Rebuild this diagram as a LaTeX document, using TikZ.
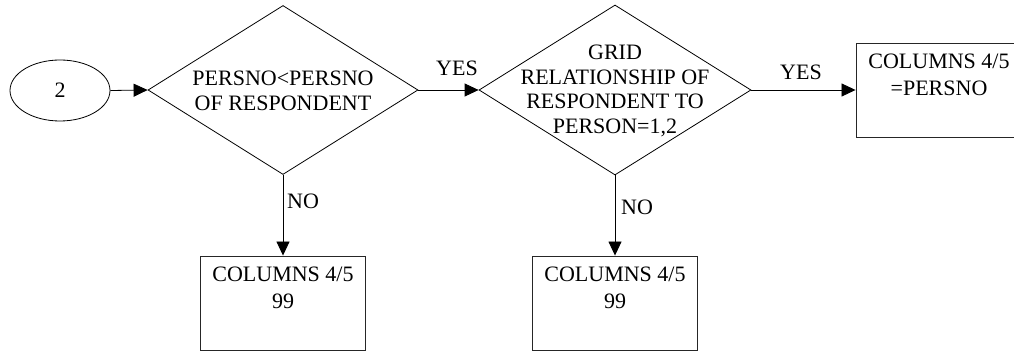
\documentclass[tikz,border=0pt]{standalone}
\usepackage{fontspec}
\setmainfont{Liberation Serif}
\newfontfamily\chartfont{Liberation Serif}
\usetikzlibrary{shapes.geometric,arrows.meta}

\tikzset{
  x=1pt, y=-1pt,
  txt/.style={font=\chartfont\fontsize{22}{24.5}\selectfont, align=center, inner sep=0pt},
  boxtxt/.style={font=\chartfont\fontsize{22}{27}\selectfont, align=center, inner sep=0pt, anchor=north},
  lbl/.style={font=\chartfont\fontsize{22}{24.5}\selectfont, inner sep=0pt},
  term/.style={draw, ellipse, minimum width=100pt, minimum height=61pt, inner sep=0pt, line width=0.8pt},
  decide/.style={draw, diamond, inner sep=0pt, line width=0.8pt},
  stepbox/.style={draw=black!85, rectangle, minimum width=165pt, minimum height=94pt, inner sep=0pt, line width=0.9pt},
  arr/.style={line width=0.8pt, -{Triangle[length=14pt, width=13pt]}},
}

\begin{document}
\begin{tikzpicture}
\useasboundingbox (0,0) rectangle (1014,352);

% start connector
\node[term, txt] (start) at (60,90.5) {2};

% decisions
\node[decide, minimum width=270pt, minimum height=169pt] (d1) at (283,90) {};
\node[txt] (d1t) at (283,91) {PERSNO<PERSNO\\OF RESPONDENT};

\node[decide, minimum width=272pt, minimum height=170pt] (d2) at (615,90) {};
\node[txt] (d2t) at (615,91) {GRID\\RELATIONSHIP OF\\RESPONDENT TO\\PERSON=1,2};

% result boxes
\node[stepbox] (b1) at (283,303) {};
\node[boxtxt] (b1t) at ([yshift=-11pt]b1.north) {COLUMNS 4/5\\99};

\node[stepbox] (b2) at (615,303) {};
\node[boxtxt] (b2t) at ([yshift=-11pt]b2.north) {COLUMNS 4/5\\99};

\node[stepbox, minimum width=166pt] (b3) at (939,90) {};
\node[boxtxt] (b3t) at ([yshift=-11pt]b3.north) {COLUMNS 4/5\\=PERSNO};

% connectors
\draw[arr] (start.east) -- (d1.west);
\draw[arr] (d1.east) -- (d2.west);
\draw[arr] (d2.east) -- (b3.west);
\draw[arr] (d1.south) -- (b1.north);
\draw[arr] (d2.south) -- (b2.north);

% branch labels
\node[lbl] (y1) at (457,68) {YES};
\node[lbl] (y2) at (801,72) {YES};
\node[lbl] (n1) at (303,201) {NO};
\node[lbl] (n2) at (637,207) {NO};
\end{tikzpicture}
\end{document}
